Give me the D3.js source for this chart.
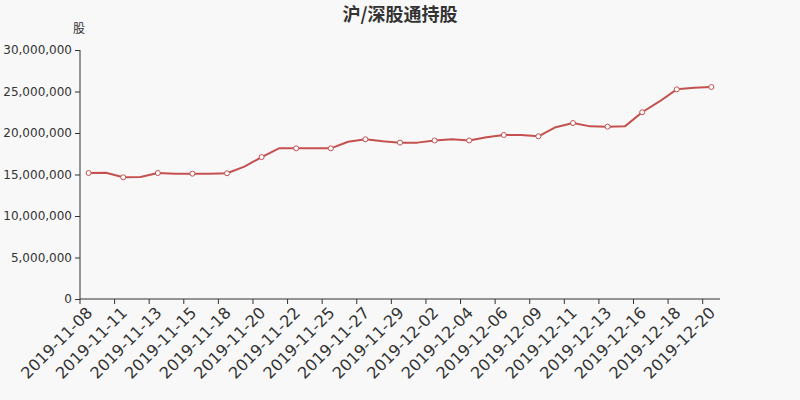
<!DOCTYPE html>
<html><head><meta charset="utf-8">
<script src="https://cdn.jsdelivr.net/npm/d3@7"></script>
<style>
html,body{margin:0;padding:0;background:#f8f8f8;}
svg{display:block;}
</style></head>
<body><svg id="c" width="800" height="400"></svg>
<script>
const title = "沪/深股通持股";
const yName = "股";
const dates = ["2019-11-08","2019-11-10","2019-11-11","2019-11-12","2019-11-13","2019-11-14","2019-11-15","2019-11-17",
"2019-11-18","2019-11-19","2019-11-20","2019-11-21","2019-11-22","2019-11-24","2019-11-25","2019-11-26","2019-11-27",
"2019-11-28","2019-11-29","2019-12-01","2019-12-02","2019-12-03","2019-12-04","2019-12-05","2019-12-06","2019-12-08",
"2019-12-09","2019-12-10","2019-12-11","2019-12-12","2019-12-13","2019-12-15","2019-12-16","2019-12-17","2019-12-18",
"2019-12-19","2019-12-20"];
const holdings = [15180000,15200000,14660000,14700000,15180000,15100000,15100000,15100000,
15150000,15950000,17100000,18150000,18150000,18150000,18150000,18950000,19240000,
19000000,18840000,18840000,19100000,19240000,19100000,19480000,19760000,19760000,
19600000,20700000,21200000,20800000,20760000,20800000,22500000,23800000,25260000,
25460000,25540000];
const yTicks = [0,5000000,10000000,15000000,20000000,25000000,30000000];

const svg = d3.select("#c");
const m = {l:80, r:80, t:50, b:101};
const W = 800, H = 400;
const x = d3.scaleBand().domain(dates).range([m.l, W - m.r]);
const y = d3.scaleLinear().domain([0, 30000000]).range([H - m.b, m.t]);
const font = "DejaVu Sans, sans-serif";
const txt = "#333";

// title
svg.append("text").attr("x", 400).attr("y", 21).attr("text-anchor","middle")
  .attr("font-family","Noto Sans CJK SC, sans-serif").attr("font-weight","bold")
  .attr("font-size",18).attr("fill",txt).text(title);
// y name
svg.append("text").attr("x", 79).attr("y", 33).attr("text-anchor","middle")
  .attr("font-family","Noto Sans CJK SC, sans-serif").attr("font-size",12).attr("fill",txt).text(yName);

// y axis
const yAx = svg.append("g").attr("transform",`translate(${m.l},0)`)
  .call(d3.axisLeft(y).tickValues(yTicks).tickFormat(d3.format(",")).tickSize(5).tickPadding(3));
yAx.selectAll("text").attr("font-family",font).attr("font-size",12).attr("fill",txt);
yAx.selectAll("line,path").attr("stroke",txt);
yAx.select(".domain").attr("d",`M0,${y(0)}V${y(30000000)}`);

// x axis
const xAx = svg.append("g").attr("transform",`translate(0,${H-m.b})`);
xAx.append("line").attr("x1",m.l).attr("x2",W-m.r).attr("stroke",txt);
const labelIdx = dates.map((d,i)=>i).filter(i=>i%2===0);
xAx.selectAll("line.tk").data(labelIdx).join("line").attr("class","tk")
  .attr("x1",i=>x(dates[i])).attr("x2",i=>x(dates[i])).attr("y1",0).attr("y2",5).attr("stroke",txt);
xAx.selectAll("text").data(labelIdx).join("text")
  .attr("transform",i=>`translate(${x(dates[i])+x.bandwidth()/2-3},${7}) rotate(-45)`)
  .attr("text-anchor","end").attr("dy","0.7em")
  .attr("font-family",font).attr("font-size",16).attr("fill",txt)
  .text(i=>dates[i]);

// line
const cx = d => x(d) + x.bandwidth()/2;
const color = "#c4504f";
svg.append("path").datum(dates.map((d,i)=>[cx(d), y(holdings[i])]))
  .attr("fill","none").attr("stroke",color).attr("stroke-width",2)
  .attr("stroke-linejoin","round").attr("d", d3.line());
svg.selectAll("circle").data(labelIdx).join("circle")
  .attr("cx",i=>cx(dates[i])).attr("cy",i=>y(holdings[i])).attr("r",2.5)
  .attr("fill","#fff").attr("stroke",color).attr("stroke-width",1);
</script></body></html>
